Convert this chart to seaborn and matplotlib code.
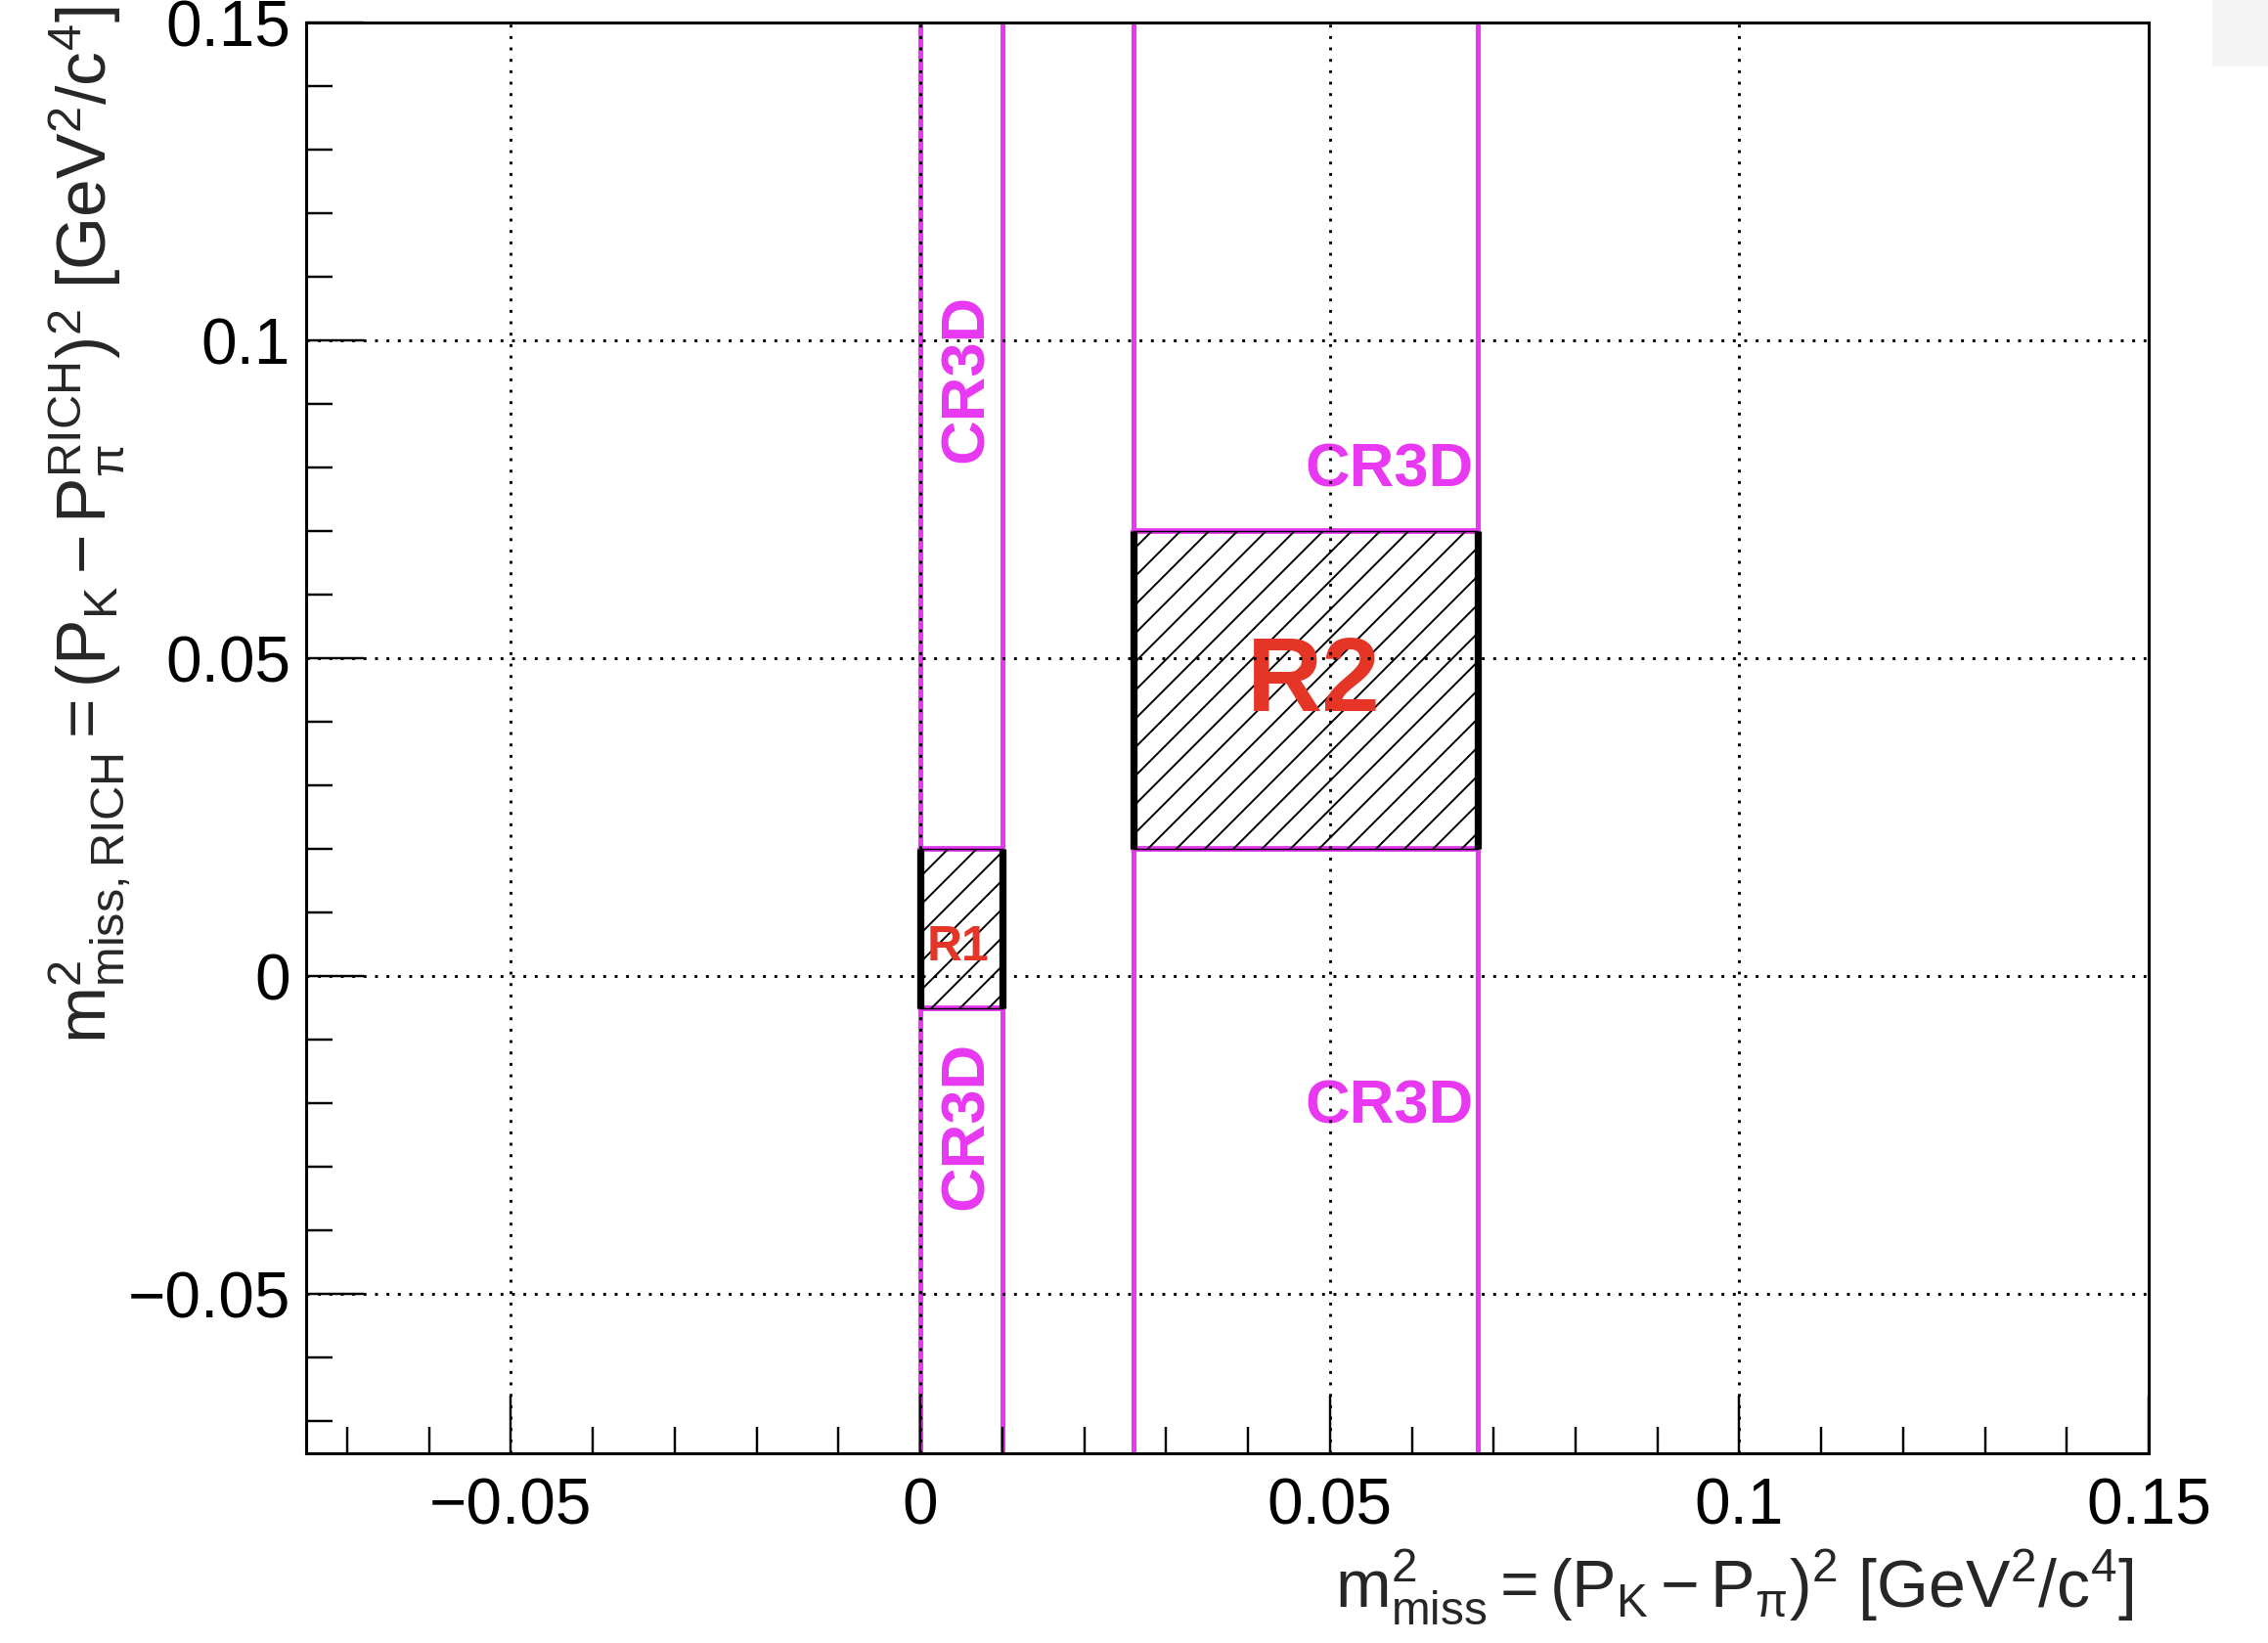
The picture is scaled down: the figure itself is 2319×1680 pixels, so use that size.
import numpy as np
import pandas as pd
import matplotlib
matplotlib.use('Agg')
import matplotlib.pyplot as plt
from matplotlib.patches import Rectangle
from matplotlib.ticker import MultipleLocator
import seaborn as sns

# signal regions in (m2_miss, m2_miss_RICH) plane, GeV^2/c^4
region_names = ['R1', 'R2']
region_x = [[0.0, 0.01], [0.026, 0.068]]
region_y = [[-0.005, 0.02], [0.02, 0.07]]

# CR3D control region boundaries (vertical bands)
cr3d_x = [0.0, 0.01, 0.026, 0.068]

x_lim = [-0.075, 0.15]
y_lim = [-0.075, 0.15]
major_ticks = [-0.05, 0.0, 0.05, 0.1, 0.15]
tick_labels = ['\u22120.05', '0', '0.05', '0.1', '0.15']

MAG = '#E838F2'
RED = '#E53527'

sns.set_theme(style='ticks')
plt.rcParams['font.family'] = ['Liberation Sans', 'DejaVu Sans']
plt.rcParams.update({
    'mathtext.fontset': 'custom',
    'mathtext.rm': 'Liberation Sans',
    'mathtext.it': 'Liberation Sans:italic',
    'mathtext.bf': 'Liberation Sans:bold',
    'hatch.linewidth': 0.8,
    'hatch.color': 'black',
    'axes.edgecolor': 'black',
    'xtick.color': 'black',
    'ytick.color': 'black',
})

DPI = 175
fig = plt.figure(figsize=(2319.2 / DPI, 1680.2 / DPI), dpi=DPI, facecolor='white')
ax = fig.add_axes([313 / 2319, 1 - 1486 / 1680, 1884 / 2319, 1463 / 1680])

# long-form table of the horizontal box edges
edges = pd.DataFrame({
    'x': [v for xs, ys in zip(region_x, region_y) for y in ys for v in xs],
    'y': [y for xs, ys in zip(region_x, region_y) for y in ys for v in xs],
    'edge': [f'{n}_{i}' for n, ys in zip(region_names, region_y) for i in range(len(ys)) for _ in range(2)],
})

for x in cr3d_x:
    ax.axvline(x, color=MAG, lw=2.1, zorder=1.3)

sns.lineplot(data=edges, x='x', y='y', units='edge', estimator=None, sort=False,
             color=MAG, lw=2.4, ax=ax, zorder=1.4)

for xs, ys in zip(region_x, region_y):
    ax.add_patch(Rectangle((xs[0], ys[0]), xs[1] - xs[0], ys[1] - ys[0],
                           facecolor='none', edgecolor='black', hatch='//',
                           lw=0.6, zorder=1.6))
    ax.vlines(xs, ys[0], ys[1], color='black', lw=3.0, zorder=1.8)

# annotations
ax.text(0.0056, 0.094, 'CR3D', rotation=90, color=MAG, fontsize=26,
        fontweight='bold', ha='center', va='center', zorder=2)
ax.text(0.0056, -0.0234, 'CR3D', rotation=90, color=MAG, fontsize=26,
        fontweight='bold', ha='center', va='center', zorder=2)
ax.text(0.0573, 0.0795, 'CR3D', color=MAG, fontsize=26,
        fontweight='bold', ha='center', va='center', zorder=2)
ax.text(0.0573, -0.0205, 'CR3D', color=MAG, fontsize=26,
        fontweight='bold', ha='center', va='center', zorder=2)
ax.text(0.0046, 0.0045, region_names[0], color=RED, fontsize=20.5,
        fontweight='bold', ha='center', va='center', zorder=2)
ax.text(0.048, 0.046, region_names[1], color=RED, fontsize=44,
        fontweight='bold', ha='center', va='center', zorder=2)

ax.set_xlim(x_lim)
ax.set_ylim(y_lim)
ax.set_xticks(major_ticks)
ax.set_xticklabels(tick_labels)
ax.set_yticks(major_ticks)
ax.set_yticklabels(tick_labels)
ax.xaxis.set_minor_locator(MultipleLocator(0.01))
ax.yaxis.set_minor_locator(MultipleLocator(0.01))
ax.tick_params(which='major', direction='in', length=24.3, width=1.0,
               labelsize=27, top=False, right=False)
ax.tick_params(which='minor', direction='in', length=11.1, width=1.0,
               top=False, right=False)
ax.tick_params(axis='x', which='major', pad=10)
ax.tick_params(axis='y', which='major', pad=6.5)

ax.set_axisbelow(False)
ax.grid(True, which='major', color='black', linestyle=(0, (1, 3)), linewidth=1.2)
for s in ax.spines.values():
    s.set_linewidth(1.25)
    s.set_color('black')
    s.set_zorder(3)

ax.set_xlabel(r'$\mathrm{m^{2}_{miss} = (P_{K} - P_{\pi})^{2}\ [GeV^{2}/c^{4}]}$',
              fontsize=28, ha='right')
ax.xaxis.set_label_coords(0.9915, -0.066)
ax.set_ylabel(r'$\mathrm{m^{2}_{miss,RICH} = (P_{K} - P_{\pi}^{RICH})^{2}\ [GeV^{2}/c^{4}]}$',
              fontsize=28.6, ha='right')
ax.yaxis.set_label_coords(-0.094, 1.011)

# faint screenshot artefact at the top right corner
fig.patches.append(Rectangle((2262 / 2319, 1 - 68 / 1680), 57 / 2319, 68 / 1680,
                             transform=fig.transFigure, facecolor='#f4f4f4',
                             edgecolor='none', zorder=0))

fig.savefig('out.png', dpi=DPI, facecolor='white')
